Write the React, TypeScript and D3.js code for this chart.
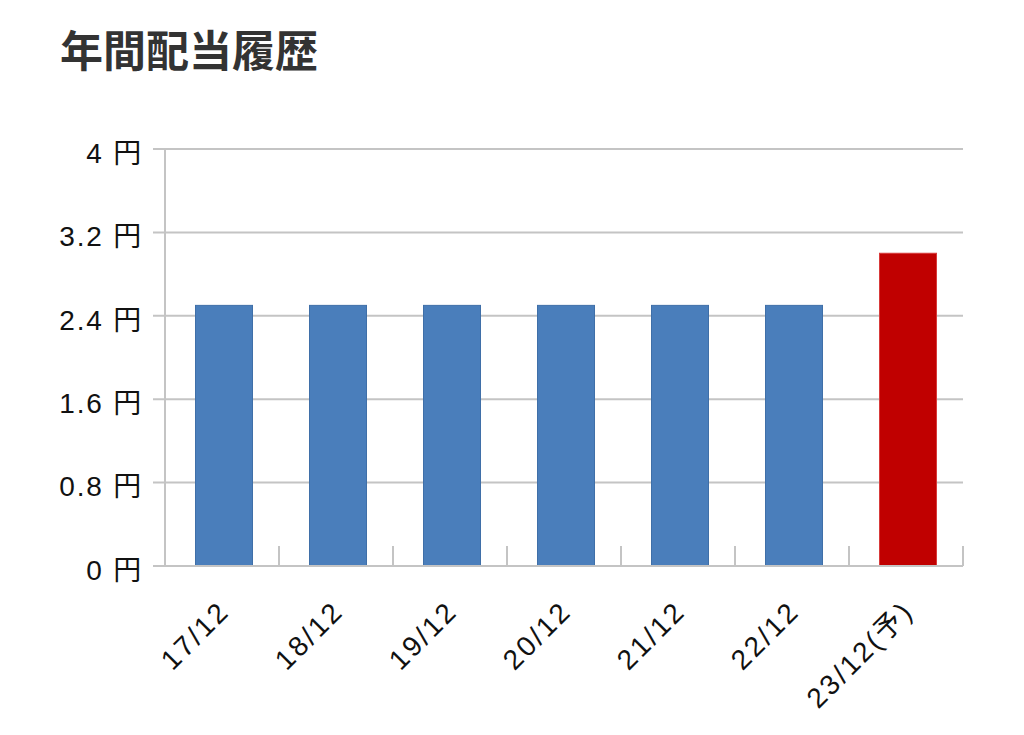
// @ts-nocheck
import React, { useRef, useEffect } from 'react';
import * as d3 from 'd3';

const categories = ['17/12', '18/12', '19/12', '20/12', '21/12', '22/12', '23/12(予)'];
const dividends = [2.5, 2.5, 2.5, 2.5, 2.5, 2.5, 3.0];
const yTicks = [0, 0.8, 1.6, 2.4, 3.2, 4];

const W = 1024;
const H = 735;
const TITLE_FONT = '"Noto Sans CJK JP", "Noto Sans", sans-serif';
const LABEL_FONT = '"Liberation Sans", "Noto Sans CJK JP", sans-serif';

const App: React.FC = () => {
  const svgRef = useRef(null);

  useEffect(() => {
    const svg = d3.select(svgRef.current);
    svg.selectAll('*').remove();

    const left = 165, right = 963, top = 149, bottom = 566;

    const x = d3.scaleBand().domain(categories).range([left, right])
      .paddingInner(0.5).paddingOuter(0.25);
    const y = d3.scaleLinear().domain([0, 4]).range([bottom, top]);
    const step = x.step();

    svg.append('rect').attr('width', W).attr('height', H).attr('fill', '#fff');

    // title
    svg.append('text')
      .attr('x', 60).attr('y', 67)
      .attr('font-family', TITLE_FONT).attr('font-weight', 700)
      .attr('font-size', 43).attr('fill', '#333')
      .text('年間配当履歴');

    // grid + y ticks
    const grid = svg.append('g');
    yTicks.forEach(t => {
      grid.append('line')
        .attr('x1', 153).attr('x2', right)
        .attr('y1', y(t)).attr('y2', y(t))
        .attr('stroke', '#c4c4c4').attr('stroke-width', 2);
      grid.append('text')
        .attr('x', 143).attr('y', y(t) + 4)
        .attr('dy', '0.35em')
        .attr('text-anchor', 'end')
        .attr('letter-spacing', 1.8)
        .attr('font-family', LABEL_FONT).attr('font-size', 28)
        .attr('fill', '#111')
        .text(`${t} 円`);
    });

    // y axis line
    grid.append('line')
      .attr('x1', left).attr('x2', left)
      .attr('y1', top).attr('y2', bottom)
      .attr('stroke', '#c4c4c4').attr('stroke-width', 2);

    // category separator ticks
    categories.forEach((c, i) => {
      const xx = left + step * (i + 1);
      grid.append('line')
        .attr('x1', xx).attr('x2', xx)
        .attr('y1', bottom - 20).attr('y2', bottom)
        .attr('stroke', '#c4c4c4').attr('stroke-width', 2);
    });

    // bars
    svg.append('g').selectAll('rect')
      .data(categories)
      .enter().append('rect')
      .attr('x', d => x(d) + 2)
      .attr('width', x.bandwidth())
      .attr('y', (d, i) => y(dividends[i]))
      .attr('height', (d, i) => bottom - y(dividends[i]))
      .attr('fill', d => d.includes('予') ? '#c00000' : '#4a7ebb')
      .attr('stroke', d => d.includes('予') ? '#d83a3a' : '#3f6fa8')
      .attr('stroke-width', 1);

    // bottom axis line drawn over bars
    svg.append('line')
      .attr('x1', left).attr('x2', right)
      .attr('y1', bottom).attr('y2', bottom)
      .attr('stroke', '#c4c4c4').attr('stroke-width', 2);

    // x labels
    svg.append('g').selectAll('text')
      .data(categories)
      .enter().append('text')
      .attr('transform', d => `translate(${x(d) + x.bandwidth() / 2 + 9},${bottom + 47}) rotate(-45)`)
      .attr('text-anchor', 'end')
      .attr('letter-spacing', 2.5)
      .attr('font-family', LABEL_FONT).attr('font-size', 28)
      .attr('fill', '#111')
      .text(d => d);
  }, []);

  return (
    <svg ref={svgRef} width={W} height={H}
      style={{ position: 'absolute', left: 0, top: 0, display: 'block' }} />
  );
};

export default App;
